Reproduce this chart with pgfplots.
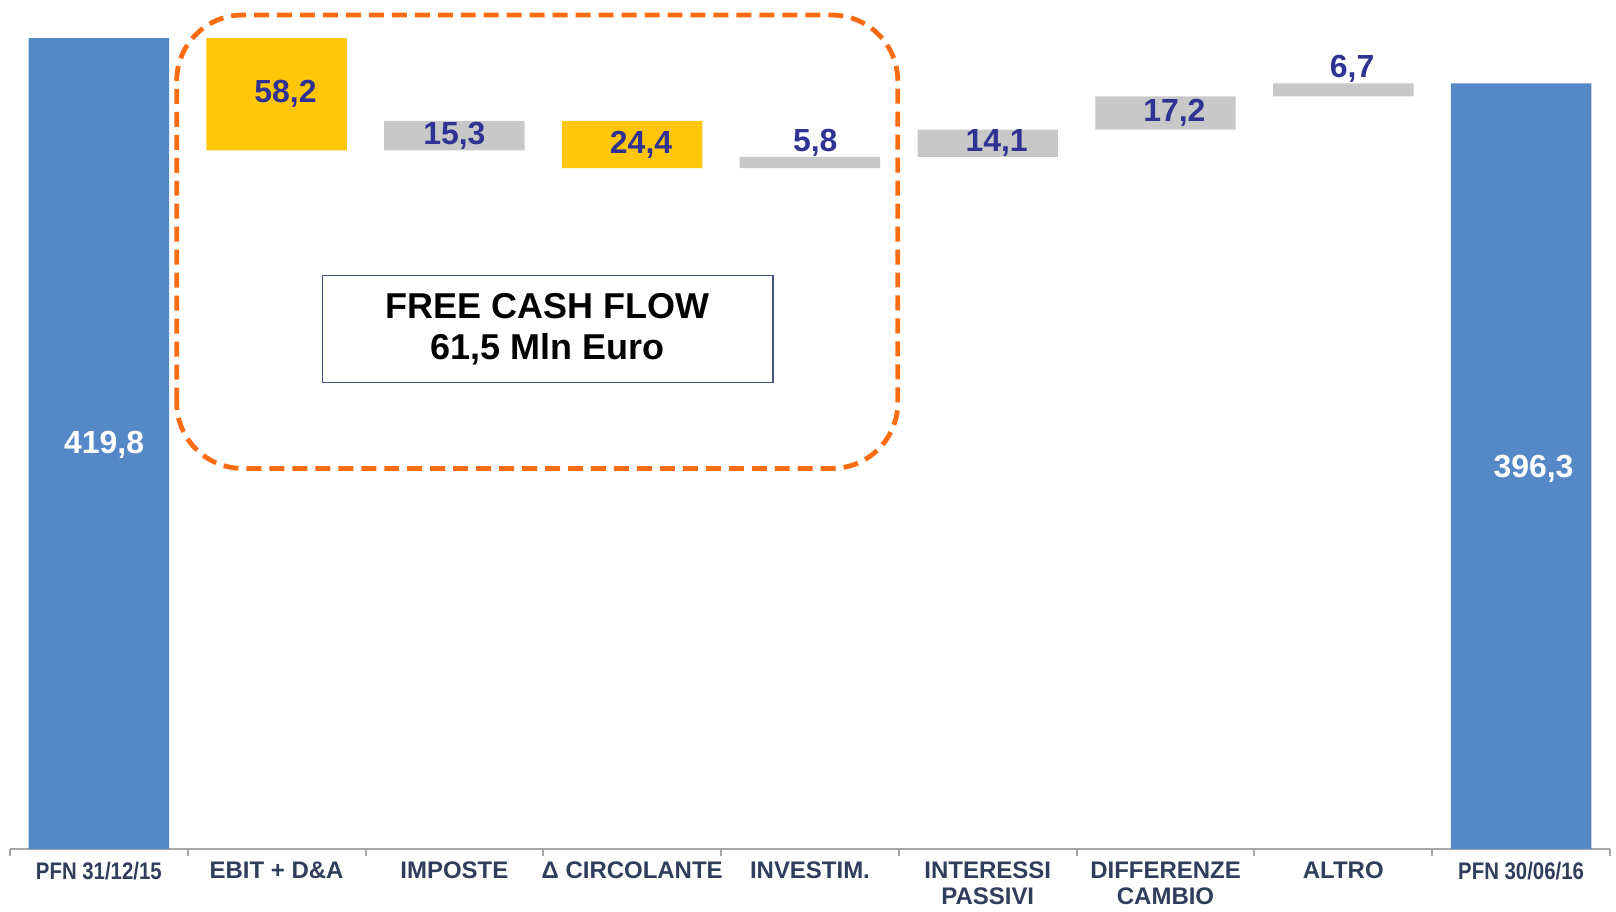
\documentclass[border=0pt]{standalone}
\usepackage{fontspec}
\setmainfont{Liberation Sans}
\newfontfamily\narrowfont[FakeStretch=0.85]{Liberation Sans}
\usepackage{pgfplots}
\pgfplotsset{compat=1.18}
\definecolor{pfnblue}{RGB}{85,136,199}
\definecolor{fcfyellow}{RGB}{255,198,10}
\definecolor{stepgray}{RGB}{200,200,200}
\definecolor{valblue}{RGB}{48,50,148}
\definecolor{catslate}{RGB}{48,62,92}
\definecolor{dashorange}{RGB}{252,108,18}
\definecolor{boxslate}{RGB}{70,85,125}
\definecolor{axgray}{RGB}{166,166,166}
\tikzset{val/.style={font=\fontsize{16}{16}\selectfont\bfseries,text=valblue}}

\begin{document}
\begin{tikzpicture}
\begin{axis}[ybar stacked,scale only axis,width=801pt,height=425pt,
  bar width=0.79,xmin=-0.5,xmax=8.5,ymin=0,ymax=439.5,clip=false,
  axis x line*=bottom,axis y line=none,
  axis line style={axgray,line width=1pt},
  xtick={0,...,8},major tick length=0pt,
  minor xtick={-0.5,0.5,...,8.5},minor tick length=3.5pt,tick align=outside,
  minor tick style={axgray,line width=1pt},
  xticklabels={{\narrowfont\bfseries PFN 31/12/15},EBIT + D\&A,IMPOSTE,Δ CIRCOLANTE,INVESTIM.,INTERESSI\\PASSIVI,DIFFERENZE\\CAMBIO,ALTRO,{\narrowfont\bfseries PFN 30/06/16}},
  x tick label style={font=\fontsize{12}{12.8}\selectfont\bfseries,text=catslate,align=center,anchor=north,yshift=-3pt}]
% invisible base
\addplot[draw=none,fill=none] coordinates {(0,0) (1,361.6) (2,361.6) (3,352.5) (4,352.5) (5,358.3) (6,372.4) (7,389.6) (8,0)};
% PFN
\addplot[draw=none,fill=pfnblue] coordinates {(0,419.8) (1,0) (2,0) (3,0) (4,0) (5,0) (6,0) (7,0) (8,396.3)};
% free cash flow drivers
\addplot[draw=none,fill=fcfyellow] coordinates {(0,0) (1,58.2) (2,0) (3,24.4) (4,0) (5,0) (6,0) (7,0) (8,0)};
% other steps
\addplot[draw=none,fill=stepgray] coordinates {(0,0) (1,0) (2,15.3) (3,0) (4,5.8) (5,14.1) (6,17.2) (7,6.7) (8,0)};

% frame of the whole picture
\path (axis cs:-0.556,-32.06) rectangle (axis cs:8.534,439.5);

% anchors for the annotations drawn after the axis
\coordinate (v0) at (axis cs:0.03,209.4);
\coordinate (v1) at (axis cs:1.05,390.7);
\coordinate (v2) at (axis cs:2,369.2);
\coordinate (v3) at (axis cs:3.05,364.7);
\coordinate (v4) at (axis cs:4.03,365.5);
\coordinate (v5) at (axis cs:5.05,365.3);
\coordinate (v6) at (axis cs:6.05,381.0);
\coordinate (v7) at (axis cs:7.05,404.0);
\coordinate (v8) at (axis cs:8.07,197.0);
\coordinate (fa) at (axis cs:0.438,197.0);
\coordinate (fb) at (axis cs:4.494,431.7);
\coordinate (ba) at (axis cs:1.258,241.5);
\coordinate (bb) at (axis cs:3.792,296.8);
\coordinate (bc) at (axis cs:2.525,269.2);
\end{axis}

% value labels
\node[val,text=white] at (v0) {419,8};
\node[val] at (v1) {58,2};
\node[val] at (v2) {15,3};
\node[val] at (v3) {24,4};
\node[val] at (v4) {5,8};
\node[val] at (v5) {14,1};
\node[val] at (v6) {17,2};
\node[val] at (v7) {6,7};
\node[val,text=white] at (v8) {396,3};

% free cash flow frame
\draw[dashorange,line width=2.4pt,dash pattern=on 7.5pt off 4pt,rounded corners=33pt]
  (fa) rectangle (fb);
\draw[boxslate,line width=0.8pt] (ba) rectangle (bb);
\node[align=center,font=\fontsize{18}{20.6}\selectfont\bfseries] at (bc)
  {FREE CASH FLOW\\61,5 Mln Euro};
\end{tikzpicture}
\end{document}
